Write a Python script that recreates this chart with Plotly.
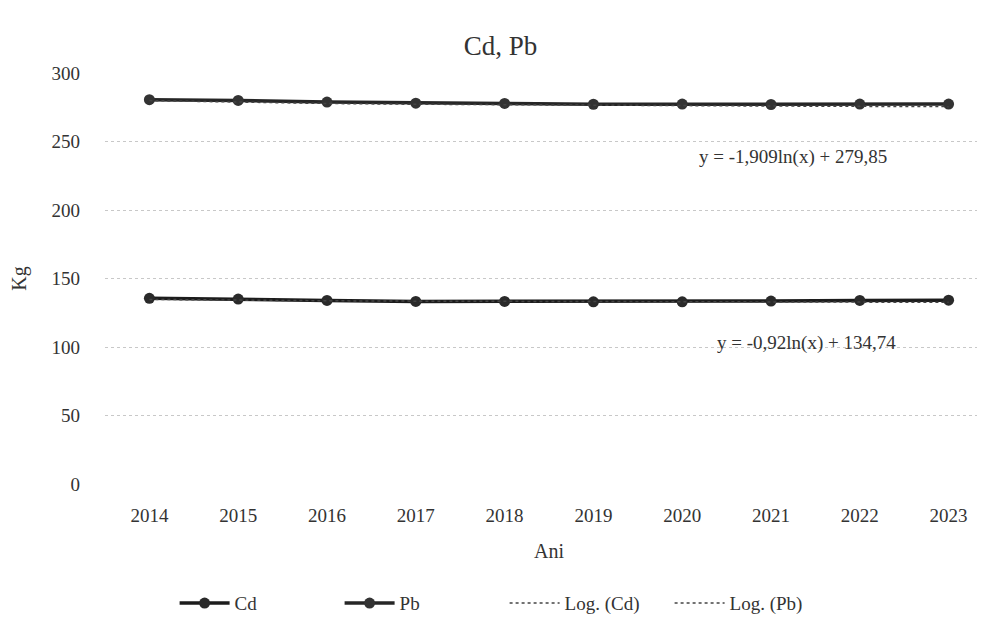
import numpy as np
import plotly.graph_objects as go

ani = [2014, 2015, 2016, 2017, 2018, 2019, 2020, 2021, 2022, 2023]
cd = [135.5, 135, 134, 133.3, 133.3, 133, 133, 133.5, 134, 134.2]
pb = [280.5, 280, 278.8, 278, 277.8, 277.2, 277.3, 277, 277.3, 277.3]

# coeficientii liniilor de tendinta (logaritmice), cum apar pe grafic
cd_a, cd_b = -0.92, 134.74
pb_a, pb_b = -1.909, 279.85
eq_cd = "y = -0,92ln(x) + 134,74"
eq_pb = "y = -1,909ln(x) + 279,85"

idx = np.arange(1, len(ani) + 1)
x_lbl = [str(a) for a in ani]

fig = go.Figure()
fig.add_trace(go.Scatter(x=x_lbl, y=cd, name="Cd", mode="lines+markers",
                         line=dict(color="#1c1c1c", width=3.5),
                         marker=dict(size=11, color="#2a2a2a")))
fig.add_trace(go.Scatter(x=x_lbl, y=pb, name="Pb", mode="lines+markers",
                         line=dict(color="#262626", width=3.5),
                         marker=dict(size=11, color="#333333")))
fig.add_trace(go.Scatter(x=x_lbl, y=cd_a * np.log(idx) + cd_b, name="Log. (Cd)",
                         mode="lines", line=dict(color="#444444", width=1.5, dash="dot")))
fig.add_trace(go.Scatter(x=x_lbl, y=pb_a * np.log(idx) + pb_b, name="Log. (Pb)",
                         mode="lines", line=dict(color="#444444", width=1.5, dash="dot")))

fig.add_annotation(x=7.25, y=239, xref="x", yref="y", text=eq_pb, showarrow=False,
                   font=dict(size=19, color="#333333"))
fig.add_annotation(x=7.4, y=103, xref="x", yref="y", text=eq_cd, showarrow=False,
                   font=dict(size=19, color="#333333"))

fig.update_layout(
    width=985, height=625,
    paper_bgcolor="white", plot_bgcolor="white",
    font=dict(family="Liberation Serif", color="#333333"),
    title=dict(text="Cd, Pb", x=0.5, xanchor="center", y=0.94, yanchor="middle",
               font=dict(size=27, color="#333333")),
    margin=dict(l=97, r=0, t=65, b=149),
    legend=dict(orientation="h", x=0.45, xanchor="center", y=-0.29, yanchor="middle",
                font=dict(size=19, color="#333333"), itemwidth=50,
                entrywidth=100, entrywidthmode="pixels"),
    showlegend=True,
)
fig.update_xaxes(title=dict(text="Ani", font=dict(size=20), standoff=18),
                 tickfont=dict(size=19), showgrid=False, ticks="", showline=False,
                 ticklabelstandoff=18, range=[-0.5, 9.5])
fig.update_yaxes(title=dict(text="Kg", font=dict(size=20), standoff=22),
                 tickfont=dict(size=19), range=[0, 300], dtick=50,
                 showgrid=True, gridcolor="#c8c8c8", griddash="dot", gridwidth=1,
                 zeroline=False, showline=False, ticks="", ticklabelstandoff=24)

fig.write_html("out.html")
